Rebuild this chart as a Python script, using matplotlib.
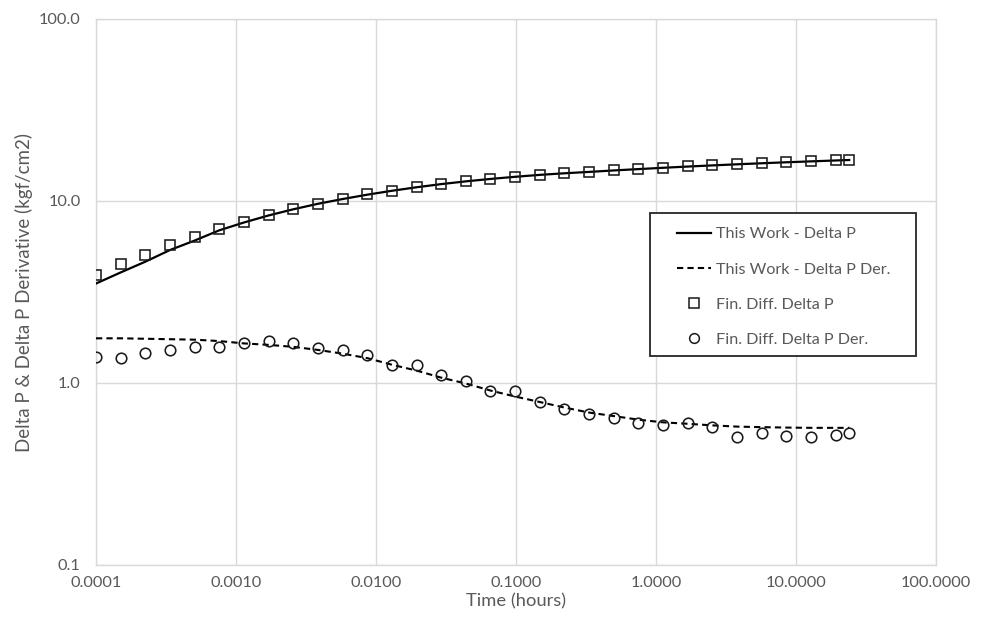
import matplotlib
matplotlib.use("Agg")
import matplotlib.pyplot as plt
from matplotlib.patches import Rectangle
from matplotlib.lines import Line2D
from matplotlib.ticker import FixedLocator, FixedFormatter, NullLocator

plt.rcParams['font.family'] = ['Lato', 'DejaVu Sans']

# Elapsed time (hours)
time_h = [0.0001, 0.00015, 0.000225, 0.000338, 0.000506, 0.000759, 0.00114,
          0.00171, 0.00256, 0.00384, 0.00577, 0.00865, 0.0130, 0.0195, 0.0292,
          0.0438, 0.0657, 0.0985, 0.148, 0.222, 0.333, 0.499, 0.748, 1.12,
          1.68, 2.53, 3.79, 5.68, 8.52, 12.8, 19.2, 24.0]

# Analytical model (kgf/cm2)
model_dp = [3.52, 4.05, 4.64, 5.38, 6.06, 6.90, 7.62, 8.33, 9.00, 9.65, 10.25,
            10.83, 11.38, 11.90, 12.38, 12.82, 13.22, 13.58, 13.92, 14.20,
            14.45, 14.72, 14.97, 15.22, 15.46, 15.69, 15.91, 16.12, 16.32,
            16.51, 16.70, 16.80]
model_der = [1.76, 1.76, 1.75, 1.74, 1.73, 1.70, 1.65, 1.62, 1.58, 1.52, 1.45,
             1.37, 1.26, 1.17, 1.07, 0.994, 0.909, 0.843, 0.786, 0.733, 0.688,
             0.658, 0.629, 0.608, 0.597, 0.585, 0.576, 0.572, 0.569, 0.567,
             0.567, 0.567]

# Finite-difference simulation (kgf/cm2)
fd_dp = [3.94, 4.51, 5.07, 5.74, 6.37, 6.99, 7.68, 8.35, 9.06, 9.66, 10.23,
         10.86, 11.42, 11.97, 12.44, 12.85, 13.25, 13.53, 13.87, 14.23, 14.41,
         14.73, 14.92, 15.24, 15.49, 15.75, 15.89, 16.16, 16.30, 16.51, 16.72,
         16.88]
fd_der = [1.39, 1.38, 1.46, 1.51, 1.57, 1.58, 1.65, 1.70, 1.65, 1.55, 1.51,
          1.43, 1.26, 1.26, 1.11, 1.02, 0.907, 0.904, 0.789, 0.717, 0.672,
          0.644, 0.604, 0.587, 0.604, 0.574, 0.508, 0.532, 0.511, 0.504, 0.517,
          0.532]

x_ticks = [0.0001, 0.001, 0.01, 0.1, 1, 10, 100]
x_labels = ["0.0001", "0.0010", "0.0100", "0.1000", "1.0000", "10.0000", "100.0000"]
y_ticks = [0.1, 1, 10, 100]
y_labels = ["0.1", "1.0", "10.0", "100.0"]

labels = ["This Work - Delta P", "This Work - Delta P Der.",
          "Fin. Diff. Delta P", "Fin. Diff. Delta P Der."]

TXT = "#595959"
GRID = "#d9d9d9"

fig = plt.figure(figsize=(9.81, 6.17), dpi=100)
ax = fig.add_axes([96 / 981, 1 - 565 / 617, 840 / 981, 546 / 617])

ax.set_xscale("log")
ax.set_yscale("log")
ax.set_xlim(x_ticks[0], x_ticks[-1])
ax.set_ylim(y_ticks[0], y_ticks[-1])

ax.plot(time_h, model_dp, color="black", lw=1.6, zorder=3)
ax.plot(time_h, model_der, color="black", lw=1.5, ls=(0, (3, 2)), zorder=3)
ax.plot(time_h, fd_dp, ls="none", marker="s", ms=7.8, mfc="none",
        mec="#1a1a1a", mew=1.15, zorder=4)
ax.plot(time_h, fd_der, ls="none", marker="o", ms=7.6, mfc="none",
        mec="#1a1a1a", mew=1.15, zorder=4)

ax.xaxis.set_major_locator(FixedLocator(x_ticks))
ax.xaxis.set_major_formatter(FixedFormatter(x_labels))
ax.xaxis.set_minor_locator(NullLocator())
ax.yaxis.set_major_locator(FixedLocator(y_ticks))
ax.yaxis.set_major_formatter(FixedFormatter(y_labels))
ax.yaxis.set_minor_locator(NullLocator())

ax.grid(True, which="major", color=GRID, lw=1.0)
ax.set_axisbelow(True)
for s in ax.spines.values():
    s.set_color(GRID)
    s.set_linewidth(1.0)

ax.tick_params(axis="both", length=0, labelsize=11.8, colors=TXT)
ax.tick_params(axis="x", pad=8)
ax.tick_params(axis="y", pad=11)

ax.set_xlabel("Time (hours)", fontsize=13.2, color=TXT, labelpad=2)
ax.set_ylabel("Delta P & Delta P Derivative (kgf/cm2)", fontsize=13.5,
              color=TXT, labelpad=4)

# Legend box
x0, x1 = (650 - 96) / 840, (916 - 96) / 840
y0, y1 = (565 - 356) / 546, (565 - 213) / 546
ax.add_patch(Rectangle((x0, y0), x1 - x0, y1 - y0, transform=ax.transAxes,
                       facecolor="white", edgecolor="#262626", lw=1.3,
                       zorder=6))

handles = [
    Line2D([], [], color="black", lw=1.6),
    Line2D([], [], color="black", lw=1.5, ls=(0, (3, 2))),
    Line2D([], [], ls="none", marker="s", ms=7.2, mfc="none", mec="#1a1a1a", mew=1.1),
    Line2D([], [], ls="none", marker="o", ms=7.0, mfc="none", mec="#1a1a1a", mew=1.1),
]
leg = ax.legend(handles, labels, loc="upper left",
                bbox_to_anchor=((677 - 96) / 840, (565 - 227) / 546),
                frameon=False, fontsize=11.6, handlelength=2.1,
                handletextpad=0.32, labelspacing=1.3, borderpad=0,
                borderaxespad=0)
leg.set_zorder(7)
for t in leg.get_texts():
    t.set_color(TXT)

fig.savefig("out.png", dpi=100)
